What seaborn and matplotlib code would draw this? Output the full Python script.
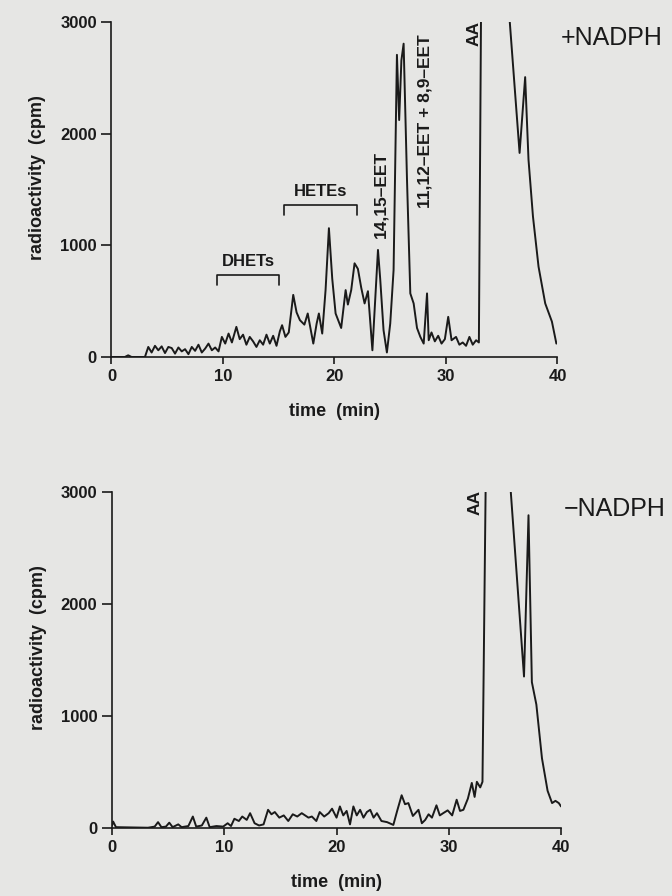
import numpy as np
import pandas as pd
import matplotlib
matplotlib.use("Agg")
import matplotlib.pyplot as plt
import seaborn as sns

# ---------------- data ----------------
time_top = [0, 1.2, 1.5, 1.8, 3.0, 3.3, 3.6, 3.9, 4.2, 4.5, 4.8, 5.1, 5.4, 5.7, 6.0, 6.3,
            6.6, 6.9, 7.2, 7.5, 7.8, 8.1, 8.4, 8.7, 9.0, 9.3, 9.6, 9.9, 10.2, 10.5, 10.8,
            11.2, 11.5, 11.8, 12.1, 12.4, 12.7, 13.0, 13.3, 13.6, 13.9, 14.2, 14.5, 14.8,
            15.1, 15.3, 15.6, 15.9, 16.3, 16.6, 16.9, 17.3, 17.6, 18.1, 18.4, 18.6, 18.9,
            19.2, 19.5, 19.8, 20.1, 20.6, 21.0, 21.2, 21.5, 21.8, 22.1, 22.4, 22.7, 23.0,
            23.4, 23.9, 24.1, 24.4, 24.7, 25.0, 25.3, 25.6, 25.8, 26.0, 26.2, 26.5, 26.8,
            27.1, 27.4, 27.7, 28.0, 28.3, 28.45, 28.7, 29.0, 29.3, 29.6, 29.9, 30.2, 30.5,
            30.9, 31.2, 31.5, 31.8, 32.1, 32.4, 32.7, 32.95, 33.15, 34.4, 35.65, 36.6,
            37.1, 37.4, 37.8, 38.3, 38.9, 39.5, 39.9]
cpm_top = [0, 0, 15, 0, 0, 90, 40, 100, 60, 95, 35, 90, 80, 30, 85, 50,
           70, 25, 90, 55, 110, 40, 75, 120, 60, 85, 50, 180, 120, 210, 130,
           270, 160, 200, 110, 180, 140, 90, 150, 110, 200, 120, 190, 100,
           230, 285, 180, 220, 557, 400, 330, 290, 390, 120, 300, 390, 210,
           600, 1155, 700, 390, 260, 600, 470, 600, 840, 790, 620, 480, 590,
           60, 960, 700, 240, 40, 300, 780, 2710, 2125, 2660, 2810, 1600, 570,
           480, 260, 180, 120, 570, 150, 220, 140, 190, 120, 160, 360, 150,
           180, 110, 130, 100, 180, 110, 150, 130, 3200, 9000, 3100, 1830,
           2510, 1770, 1260, 810, 480, 317, 120]

time_bot = [0, 0.1, 0.35, 3.2, 3.8, 4.1, 4.4, 4.8, 5.1, 5.4, 5.9, 6.2, 6.8, 7.2, 7.5, 8.0,
            8.4, 8.7, 9.3, 9.9, 10.3, 10.6, 10.9, 11.3, 11.6, 12.0, 12.3, 12.7, 13.1, 13.5,
            13.9, 14.2, 14.5, 14.9, 15.3, 15.7, 16.1, 16.5, 16.9, 17.2, 17.5, 17.8, 18.2,
            18.5, 18.9, 19.3, 19.6, 20.0, 20.3, 20.6, 20.9, 21.2, 21.5, 21.8, 22.1, 22.4,
            22.7, 23.0, 23.3, 23.6, 24.0, 24.5, 25.06, 25.4, 25.8, 26.1, 26.4, 26.8, 27.3,
            27.6, 27.9, 28.2, 28.5, 28.9, 29.2, 29.5, 29.9, 30.3, 30.7, 31.0, 31.3, 31.7,
            32.05, 32.3, 32.5, 32.8, 33.0, 33.3, 34.4, 35.45, 36.7, 37.1, 37.4, 37.8, 38.3,
            38.8, 39.2, 39.5, 39.8, 40.0]
cpm_bot = [20, 55, 5, 0, 10, 50, 5, 10, 45, 5, 30, 5, 15, 100, 10, 20,
           90, 5, 15, 10, 40, 15, 80, 60, 100, 70, 130, 40, 20, 30,
           160, 120, 140, 90, 110, 60, 120, 100, 130, 110, 90, 100, 60,
           140, 100, 130, 170, 90, 190, 110, 150, 30, 190, 110, 160, 90,
           140, 160, 90, 130, 60, 50, 25, 150, 290, 210, 220, 105, 160,
           40, 70, 120, 90, 200, 110, 130, 155, 110, 250, 150, 160, 260,
           400, 275, 410, 360, 410, 3200, 9000, 3100, 1350, 2790, 1300, 1100, 620,
           330, 220, 240, 220, 190]

x_ticks = [0, 10, 20, 30, 40]
y_ticks = [0, 1000, 2000, 3000]

# bracket groups (label, start, end, bracket level)
groups = ["DHETs", "HETEs"]
group_start = [9.5, 15.5]
group_end = [15.0, 22.0]
group_level = [735, 1363]
group_drop = 90

peak_labels = ["14,15\u2013EET", "11,12\u2013EET + 8,9\u2013EET", "AA"]
peak_time = [24.15, 28.1, 32.5]
peak_level = [1460, 2117, 2900]
bot_peak_labels = ["AA"]
bot_peak_time = [32.35]
bot_peak_level = [2900]

df_top = pd.DataFrame({"time": time_top, "cpm": cpm_top})
df_bot = pd.DataFrame({"time": time_bot, "cpm": cpm_bot})

# ---------------- style ----------------
sns.set_theme(style="ticks")
plt.rcParams["font.family"] = ["Liberation Sans", "DejaVu Sans"]
bg = "#e6e6e4"
ink = "#1a1a1a"
plt.rcParams.update({
    "axes.edgecolor": ink, "axes.linewidth": 1.2,
    "xtick.color": ink, "ytick.color": ink,
    "xtick.major.width": 1.2, "ytick.major.width": 1.2,
    "xtick.major.size": 5, "ytick.major.size": 7,
    "text.color": ink, "axes.labelcolor": ink,
})

fig = plt.figure(figsize=(6.72, 8.96), dpi=100, facecolor=bg)
ax1 = fig.add_axes([0.1659, 0.6016, 0.6637, 0.3733], facecolor=bg)
ax2 = fig.add_axes([0.1667, 0.0762, 0.6682, 0.3750], facecolor=bg)

for ax, df in [(ax1, df_top), (ax2, df_bot)]:
    sns.lineplot(data=df, x="time", y="cpm", ax=ax, color=ink, linewidth=1.4,
                 estimator=None, sort=False)
    ax.set_xlim(0, 40)
    ax.set_ylim(0, 3000)
    ax.set_xticks(x_ticks)
    ax.set_yticks(y_ticks)
    ax.set_xticklabels([str(v) for v in x_ticks], fontsize=12, fontweight="bold")
    ax.set_yticklabels([str(v) for v in y_ticks], fontsize=12, fontweight="bold")
    ax.set_xlabel("time  (min)", fontsize=13, fontweight="bold", labelpad=14)
    ax.set_ylabel("radioactivity  (cpm)", fontsize=13, fontweight="bold", labelpad=10)
    ax.yaxis.label.set_y(0.535)
    sns.despine(ax=ax)
    ax.tick_params(axis="x", direction="out")
    ax.tick_params(axis="y", direction="out")

# brackets and labels on top panel
for name, s, e, lvl in zip(groups, group_start, group_end, group_level):
    ax1.plot([s, s, e, e], [lvl - group_drop, lvl, lvl, lvl - group_drop],
             color=ink, linewidth=1.2)
    ax1.text((s + e) / 2, lvl + 50, name, ha="center", va="bottom",
             fontsize=12, fontweight="bold")

for lab, t, lvl in zip(peak_labels, peak_time, peak_level):
    ax1.text(t, lvl, lab, rotation=90, ha="center", va="center",
             fontsize=12.5, fontweight="bold")
for lab, t, lvl in zip(bot_peak_labels, bot_peak_time, bot_peak_level):
    ax2.text(t, lvl, lab, rotation=90, ha="center", va="center",
             fontsize=12.5, fontweight="bold")

ax1.text(1.008, 0.955, "+NADPH", transform=ax1.transAxes, ha="left", va="center",
         fontsize=18)
ax2.text(1.005, 0.95, "\u2212NADPH", transform=ax2.transAxes, ha="left", va="center",
         fontsize=18)

fig.savefig("out.png", dpi=100, facecolor=bg)
